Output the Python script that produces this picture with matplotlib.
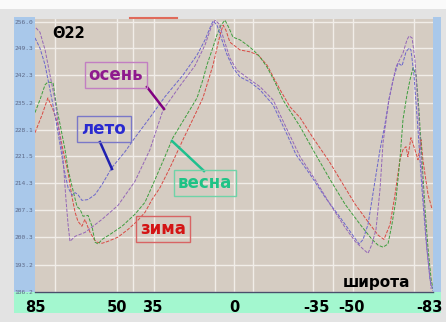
import numpy as np
from matplotlib import pyplot as plt
from matplotlib.patches import Rectangle
from matplotlib.lines import Line2D

# latitude (deg) and value, per season
zima_lat = [85.0, 82.0, 79.5, 77.3, 75.2, 73.1, 70.9, 69.2, 67.9, 66.7, 65.0, 63.7, 62.4, 61.5, 59.8, 58.6,
            56.4, 53.9, 49.6, 45.3, 41.5, 38.1, 35.1, 31.7, 27.4, 21.9, 16.8, 13.4, 10.4, 9.1, 7.4, 6.1,
            4.8, 3.6, 1.9, -2.4, -6.7, -10.1, -13.9, -19.5, -23.7, -28.0, -33.5, -40.4, -45.1, -51.5,
            -57.8, -61.3, -63.8, -66.4, -68.5, -70.6, -71.9, -73.2, -74.0, -75.3, -77.0, -78.3, -79.6,
            -80.4, -81.3, -82.6, -84.3]
zima_val = [227.4, 232.0, 236.4, 233.3, 229.5, 223.0, 217.1, 210.7, 206.8, 204.5, 203.2, 205.0, 202.9, 201.6,
            199.8, 199.1, 198.8, 199.3, 200.4, 202.4, 204.5, 206.8, 210.1, 213.2, 218.4, 225.6, 232.0, 236.4,
            242.3, 244.9, 249.3, 252.7, 255.2, 253.9, 250.8, 248.8, 248.3, 247.5, 244.9, 238.5, 234.1, 231.3,
            226.1, 220.0, 215.3, 208.9, 203.7, 200.9, 199.8, 203.7, 211.4, 220.4, 223.0, 223.8, 221.2, 226.1,
            223.0, 220.4, 225.6, 220.4, 216.6, 211.4, 207.6]

vesna_lat = [85.0, 82.9, 80.7, 79.5, 77.3, 75.6, 74.3, 72.2, 70.9, 69.2, 67.1, 65.8, 64.5, 62.4, 60.7, 59.4,
             58.1, 56.4, 53.0, 47.9, 42.4, 38.1, 33.8, 29.6, 26.2, 21.0, 15.9, 13.4, 11.7, 9.5, 7.4, 5.7,
             4.0, 2.3, 0.6, -2.4, -5.4, -8.0, -10.9, -13.9, -17.3, -20.7, -28.0, -33.5, -40.8, -47.2,
             -53.6, -58.7, -61.3, -63.4, -65.5, -67.2, -68.9, -70.6, -71.9, -73.6, -74.9, -76.2, -77.5,
             -78.7, -80.0, -81.3, -82.6, -83.9, -84.7]
vesna_val = [232.6, 235.9, 239.8, 240.5, 240.3, 233.3, 229.5, 223.0, 217.9, 213.5, 208.3, 207.6, 205.8, 206.0,
             203.2, 199.1, 198.6, 199.8, 201.1, 203.2, 206.3, 209.4, 215.3, 221.2, 226.1, 231.3, 236.4, 241.1,
             244.9, 248.8, 252.7, 255.2, 256.5, 254.5, 252.1, 251.4, 250.1, 248.8, 247.0, 244.4, 240.5, 235.9,
             229.0, 223.0, 215.3, 208.9, 203.7, 199.8, 198.3, 197.8, 198.6, 203.7, 210.1, 220.4, 230.8, 237.2,
             241.1, 244.2, 242.3, 233.3, 220.4, 207.6, 197.3, 189.5, 187.0]

leto_lat = [85.0, 82.9, 80.7, 78.6, 76.5, 74.3, 72.6, 70.9, 69.2, 67.9, 66.7, 65.0, 62.4, 59.4, 56.4, 52.2,
            46.6, 42.4, 36.0, 29.6, 21.9, 15.9, 12.5, 10.4, 9.1, 7.4, 5.3, 3.1, 0.6, -2.4, -6.7, -10.9,
            -16.5, -22.5, -26.3, -32.3, -38.7, -45.1, -49.3, -53.2, -54.9, -57.0, -58.7, -60.4, -62.1,
            -64.2, -65.9, -67.7, -69.8, -71.5, -73.2, -74.5, -75.3, -76.6, -78.3, -80.0, -81.7, -83.4, -84.7]
leto_val = [251.9, 249.3, 244.9, 238.5, 232.0, 224.3, 217.9, 213.2, 211.2, 211.9, 211.4, 209.9, 210.1, 211.4,
            214.0, 218.4, 222.5, 226.1, 231.3, 236.7, 242.3, 247.5, 251.4, 254.5, 256.3, 255.2, 251.4, 247.5,
            244.2, 241.8, 240.5, 238.5, 234.6, 226.9, 221.7, 216.6, 210.7, 205.5, 201.9, 198.6, 199.8, 203.7,
            210.1, 216.6, 223.0, 229.5, 235.9, 241.1, 245.4, 244.7, 248.3, 249.3, 248.8, 242.3, 228.2, 212.7,
            199.8, 189.5, 186.5]

osen_lat = [84.6, 82.9, 80.7, 78.6, 76.5, 74.8, 73.1, 71.8, 70.9, 70.1, 67.9, 63.7, 56.4, 49.6, 42.4, 36.0,
            30.4, 23.2, 16.8, 12.5, 10.0, 8.2, 6.5, 4.4, 1.9, -1.1, -6.7, -10.9, -16.5, -22.5, -28.0, -34.4,
            -40.8, -47.2, -51.5, -54.9, -57.0, -58.7, -60.4, -62.1, -63.4, -65.9, -68.9, -71.9, -73.6,
            -74.5, -75.8, -77.0, -78.7, -80.4, -82.1, -83.9]
osen_val = [254.5, 253.4, 248.8, 242.3, 235.9, 228.2, 221.2, 210.1, 203.7, 199.3, 200.6, 201.6, 205.0, 208.6,
            214.8, 223.0, 233.3, 239.5, 244.7, 250.1, 254.5, 256.5, 255.5, 251.4, 246.7, 243.6, 241.1, 239.3,
            235.9, 228.2, 221.2, 215.3, 208.9, 202.9, 199.3, 197.3, 196.2, 198.6, 202.4, 212.7, 224.8, 235.9,
            244.4, 248.0, 251.4, 252.4, 251.9, 246.2, 230.8, 212.7, 197.3, 187.0]

y_ticks = [186.2, 193.2, 200.3, 207.3, 214.3, 221.5, 228.1, 235.2, 242.3, 249.3, 256.0]
x_ticks = [85, 50, 35, 0, -35, -50, -83]
x_grid = [76.5, 50, 43.2, 34.3, 8.2, 0, -8.1, -33.7, -42.2, -50.8, -76.4]

W, H = 446, 322
fig = plt.figure(figsize=(W / 100, H / 100), dpi=100, facecolor='#e3e3e3')

def box(x0, y0, x1, y1, color):
    # rectangle in pixel coords (top-left origin)
    fig.patches.append(Rectangle((x0 / W, 1 - y1 / H), (x1 - x0) / W, (y1 - y0) / H,
                                 transform=fig.transFigure, facecolor=color, edgecolor='none', zorder=-5))

box(0, 0, W, 9, '#fafafa')
box(14, 17, 35, 293, '#a9c8ea')
box(433, 17, 441, 293, '#a9c8ea')
box(14, 292, 441, 313, '#a3f7cf')

ax = fig.add_axes([35 / W, 1 - 292 / H, 398 / W, 273 / H])
ax.set_zorder(1)
ax.set_facecolor('#d5ccc2')
ax.set_xlim(85, -84.7)
ax.set_ylim(186.2, 256.8)

for v in y_ticks:
    ax.axhline(v, color='#f1ede8', lw=1.0, zorder=1)
for v in x_grid:
    ax.axvline(v, color='#f1ede8', lw=1.0, zorder=1)

dash = (0, (3.5, 1.5))
ax.plot(zima_lat, zima_val, color='#d94a44', lw=0.7, ls=dash, zorder=3)
ax.plot(vesna_lat, vesna_val, color='#3e9e3e', lw=0.7, ls=dash, zorder=3)
ax.plot(leto_lat, leto_val, color='#6a66cc', lw=0.7, ls=dash, zorder=4)
ax.plot(osen_lat, osen_val, color='#9466b8', lw=0.7, ls=dash, zorder=4)

ax.set_yticks(y_ticks)
ax.set_yticklabels(['%.1f' % v for v in y_ticks], fontsize=4.5, color='#5e6a88', family='DejaVu Sans Mono')
ax.set_xticks(x_ticks)
ax.set_xticklabels([str(v) for v in x_ticks], fontsize=10.5, fontweight='bold', color='black')
ax.tick_params(axis='both', length=0)
ax.tick_params(axis='x', pad=5.5)
ax.tick_params(axis='y', pad=1.5)
for s in ['top', 'left', 'right']:
    ax.spines[s].set_visible(False)
ax.spines['bottom'].set_color('#4a4e6a')
ax.spines['bottom'].set_linewidth(1.0)

def px(x, y):
    return (x / W, 1 - y / H)

# labels with framed boxes
labels = [
    ('осень', 116, 75, '#8e1a8e', '#c27fc2'),
    ('лето', 104, 129, '#2a2ad0', '#7a78c8'),
    ('весна', 205, 183, '#1fc386', '#6fd3a8'),
    ('зима', 163, 229, '#d41414', '#d86464'),
]
for txt, cx, cy, tc, ec in labels:
    fig.text(*px(cx, cy), txt, ha='center', va='center', fontsize=12, fontweight='bold', color=tc,
             bbox=dict(boxstyle='square,pad=0.25', facecolor='none', edgecolor=ec, lw=1.0), zorder=6)

pointers = [
    ((147, 87), (164, 109), '#800080'),
    ((100, 142), (112, 169), '#2020b0'),
    ((172, 141), (204, 171), '#1fc08e'),
]
for p0, p1, c in pointers:
    a = px(*p0)
    b = px(*p1)
    fig.lines.append(Line2D([a[0], b[0]], [a[1], b[1]], transform=fig.transFigure, color=c, lw=1.8, zorder=6))

a = px(130, 18)
b = px(177, 18)
fig.lines.append(Line2D([a[0], b[0]], [a[1], b[1]], transform=fig.transFigure, color='#e06a5a', lw=1.5))

fig.text(*px(52, 33), 'Θ22', fontsize=10.5, fontweight='bold', va='center', ha='left', color='black')
fig.text(*px(376, 283), 'широта', fontsize=11, fontweight='bold', ha='center', va='center', color='black')

fig.savefig('out.png', dpi=100, facecolor=fig.get_facecolor())
